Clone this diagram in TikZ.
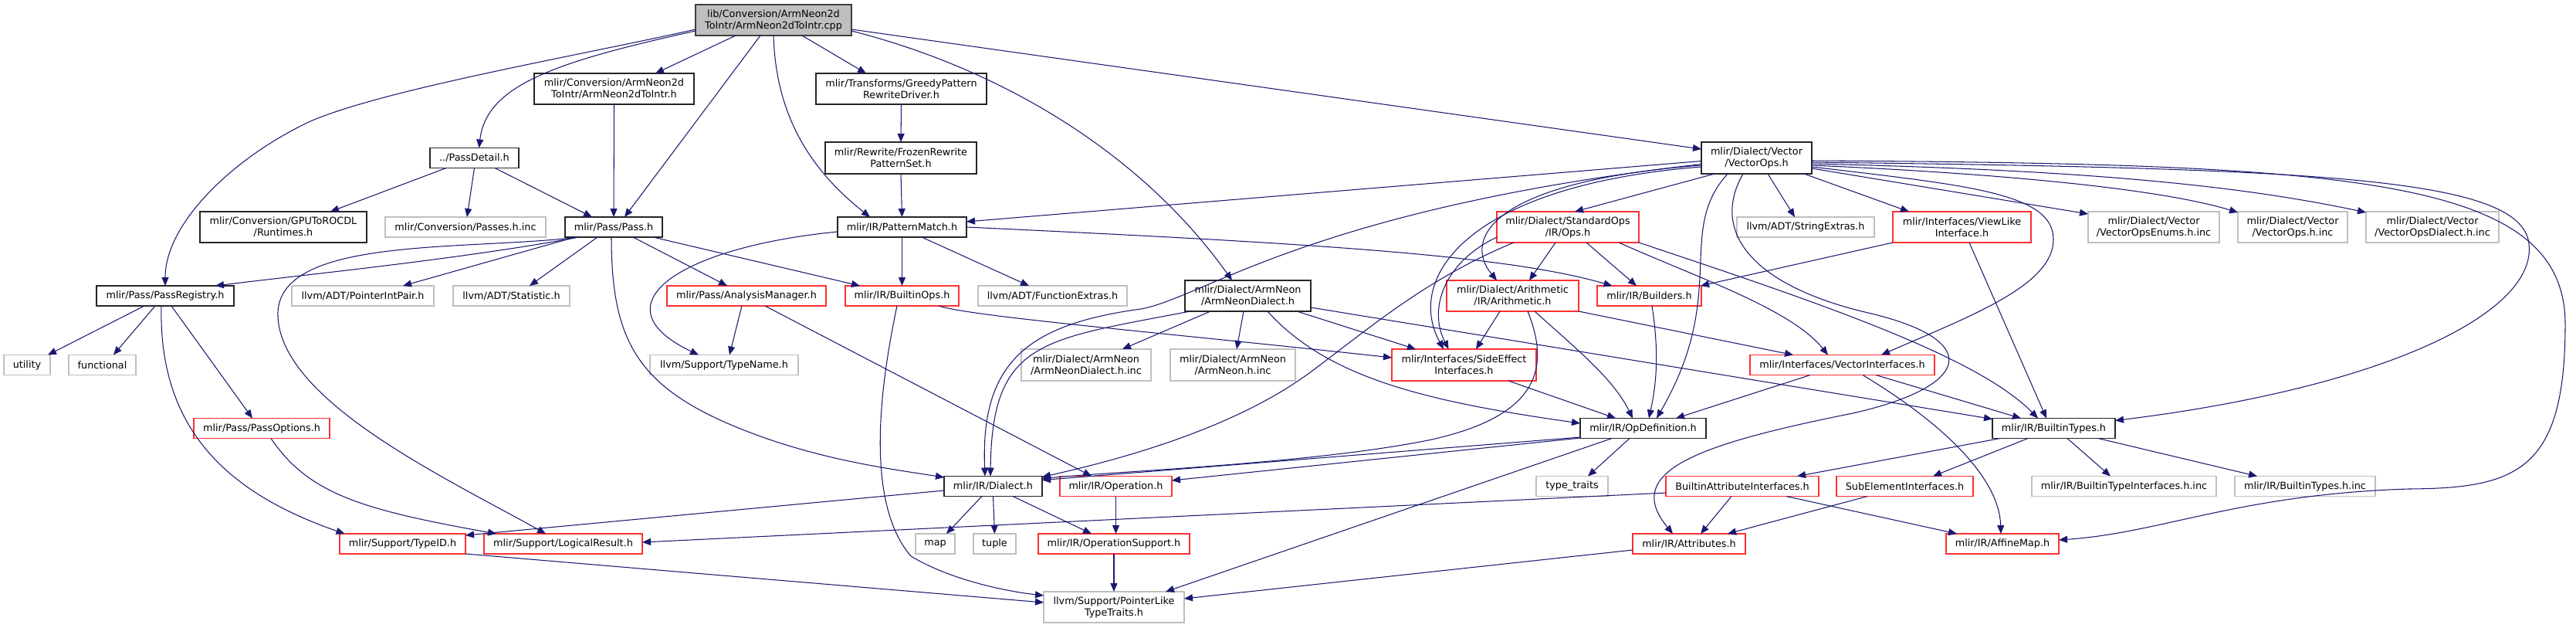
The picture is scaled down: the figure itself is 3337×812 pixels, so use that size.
\documentclass[tikz,border=0pt]{standalone}
\usepackage{fontspec}
\setmainfont{DejaVu Sans}
\usetikzlibrary{arrows.meta}
\definecolor{edgeblue}{HTML}{191970}
\definecolor{greyfill}{HTML}{BFBFBF}
\definecolor{greyline}{HTML}{BFBFBF}
\definecolor{rootline}{HTML}{404040}
\definecolor{redline}{HTML}{FF3030}
\tikzset{
  box/.style={rectangle, inner sep=0pt, outer sep=0pt, line width=1.1pt, align=center, fill=white,
    font=\fontsize{12.8pt}{15pt}\selectfont, text=black},
  rootbox/.style={box, draw=rootline, fill=greyfill},
  blackbox/.style={box, draw=black!85},
  redbox/.style={box, draw=redline},
  greybox/.style={box, draw=greyline},
  edge/.style={draw=edgeblue, line width=1.05pt, -{Triangle[length=11pt,width=9pt]}, fill=none},
}
\begin{document}
\begin{tikzpicture}[x=1pt,y=-1pt]
\useasboundingbox (0,0) rectangle (3337,812);
\fill[white] (0,0) rectangle (3337,812);
% ---------- nodes ----------
\node[rootbox, minimum width=202pt, minimum height=40pt] (cpp) at (1002,26) {lib/Conversion/ArmNeon2d\\ToIntr/ArmNeon2dToIntr.cpp};
\node[blackbox, minimum width=207pt, minimum height=40pt] (a2d) at (795.5,115) {mlir/Conversion/ArmNeon2d\\ToIntr/ArmNeon2dToIntr.h};
\node[blackbox, minimum width=221pt, minimum height=40pt] (greedy) at (1167.5,115) {mlir/Transforms/GreedyPattern\\RewriteDriver.h};
\node[blackbox, minimum width=115pt, minimum height=26pt] (passdetail) at (614.5,204.5) {../PassDetail.h};
\node[blackbox, minimum width=196pt, minimum height=41pt] (frozen) at (1167,204.5) {mlir/Rewrite/FrozenRewrite\\PatternSet.h};
\node[blackbox, minimum width=143pt, minimum height=41pt] (vectorops) at (2275.5,204.5) {mlir/Dialect/Vector\\/VectorOps.h};
\node[blackbox, minimum width=216pt, minimum height=40pt] (gpurocdl) at (367,294) {mlir/Conversion/GPUToROCDL\\/Runtimes.h};
\node[greybox, minimum width=208pt, minimum height=26pt] (passesinc) at (603,294) {mlir/Conversion/Passes.h.inc};
\node[blackbox, minimum width=126pt, minimum height=26pt] (pass) at (795,294) {mlir/Pass/Pass.h};
\node[blackbox, minimum width=167pt, minimum height=26pt] (patternmatch) at (1168.5,294) {mlir/IR/PatternMatch.h};
\node[redbox, minimum width=184pt, minimum height=40pt] (stdops) at (2031,294) {mlir/Dialect/StandardOps\\/IR/Ops.h};
\node[greybox, minimum width=178pt, minimum height=26pt] (stringextras) at (2339,294) {llvm/ADT/StringExtras.h};
\node[redbox, minimum width=179pt, minimum height=40pt] (viewlike) at (2541.5,294) {mlir/Interfaces/ViewLike\\Interface.h};
\node[greybox, minimum width=170pt, minimum height=40pt] (venums) at (2790,294) {mlir/Dialect/Vector\\/VectorOpsEnums.h.inc};
\node[greybox, minimum width=142pt, minimum height=40pt] (vinc) at (2970,294) {mlir/Dialect/Vector\\/VectorOps.h.inc};
\node[greybox, minimum width=172pt, minimum height=40pt] (vdialinc) at (3151,294) {mlir/Dialect/Vector\\/VectorOpsDialect.h.inc};
\node[blackbox, minimum width=178pt, minimum height=26pt] (passregistry) at (214,383) {mlir/Pass/PassRegistry.h};
\node[greybox, minimum width=184pt, minimum height=26pt] (pointerintpair) at (470,383) {llvm/ADT/PointerIntPair.h};
\node[greybox, minimum width=151pt, minimum height=26pt] (statistic) at (662.5,383) {llvm/ADT/Statistic.h};
\node[redbox, minimum width=206pt, minimum height=26pt] (analysismgr) at (967,383) {mlir/Pass/AnalysisManager.h};
\node[redbox, minimum width=147pt, minimum height=26pt] (builtinops) at (1168.5,383) {mlir/IR/BuiltinOps.h};
\node[greybox, minimum width=193pt, minimum height=26pt] (funcextras) at (1363.5,383) {llvm/ADT/FunctionExtras.h};
\node[blackbox, minimum width=163pt, minimum height=40pt] (armneondialect) at (1616.5,383) {mlir/Dialect/ArmNeon\\/ArmNeonDialect.h};
\node[redbox, minimum width=171pt, minimum height=40pt] (arithmetic) at (1959.5,383) {mlir/Dialect/Arithmetic\\/IR/Arithmetic.h};
\node[redbox, minimum width=135pt, minimum height=26pt] (builders) at (2136.5,383) {mlir/IR/Builders.h};
\node[greybox, minimum width=60pt, minimum height=26pt] (utility) at (35,472.5) {utility};
\node[greybox, minimum width=87pt, minimum height=26pt] (functional) at (132.5,472.5) {functional};
\node[greybox, minimum width=192pt, minimum height=26pt] (typename) at (938,472.5) {llvm/Support/TypeName.h};
\node[greybox, minimum width=168pt, minimum height=41pt] (armdialinc) at (1407,472.5) {mlir/Dialect/ArmNeon\\/ArmNeonDialect.h.inc};
\node[greybox, minimum width=162pt, minimum height=41pt] (armneoninc) at (1597,472.5) {mlir/Dialect/ArmNeon\\/ArmNeon.h.inc};
\node[redbox, minimum width=187pt, minimum height=41pt] (sideeffect) at (1896.5,472.5) {mlir/Interfaces/SideEffect\\Interfaces.h};
\node[redbox, minimum width=239pt, minimum height=26pt] (vectorifaces) at (2386.5,472.5) {mlir/Interfaces/VectorInterfaces.h};
\node[redbox, minimum width=176pt, minimum height=26pt] (passoptions) at (339,554.5) {mlir/Pass/PassOptions.h};
\node[blackbox, minimum width=163pt, minimum height=26pt] (opdef) at (2128.5,554.5) {mlir/IR/OpDefinition.h};
\node[blackbox, minimum width=159pt, minimum height=26pt] (builtintypes) at (2660.5,554.5) {mlir/IR/BuiltinTypes.h};
\node[blackbox, minimum width=127pt, minimum height=26pt] (dialect) at (1286.5,629.5) {mlir/IR/Dialect.h};
\node[redbox, minimum width=145pt, minimum height=26pt] (operation) at (1445.5,629.5) {mlir/IR/Operation.h};
\node[greybox, minimum width=93pt, minimum height=26pt] (typetraits) at (2036.5,629.5) {type\_traits};
\node[redbox, minimum width=198pt, minimum height=26pt] (battrifaces) at (2257,629.5) {BuiltinAttributeInterfaces.h};
\node[redbox, minimum width=177pt, minimum height=26pt] (subelem) at (2467.5,629.5) {SubElementInterfaces.h};
\node[greybox, minimum width=239pt, minimum height=26pt] (btifacesinc) at (2751.5,629.5) {mlir/IR/BuiltinTypeInterfaces.h.inc};
\node[greybox, minimum width=182pt, minimum height=26pt] (btinc) at (2986,629.5) {mlir/IR/BuiltinTypes.h.inc};
\node[redbox, minimum width=163pt, minimum height=26pt] (typeid) at (521.5,704) {mlir/Support/TypeID.h};
\node[redbox, minimum width=205pt, minimum height=26pt] (logicalresult) at (729.5,704) {mlir/Support/LogicalResult.h};
\node[greybox, minimum width=51pt, minimum height=26pt] (map) at (1211.5,704) {map};
\node[greybox, minimum width=55pt, minimum height=26pt] (tuple) at (1288.5,704) {tuple};
\node[redbox, minimum width=196pt, minimum height=26pt] (opsupport) at (1443,704) {mlir/IR/OperationSupport.h};
\node[redbox, minimum width=146pt, minimum height=26pt] (attributes) at (2188,704) {mlir/IR/Attributes.h};
\node[redbox, minimum width=146pt, minimum height=26pt] (affinemap) at (2594,704) {mlir/IR/AffineMap.h};
\node[greybox, minimum width=182pt, minimum height=40pt] (pointerlike) at (1443,786) {llvm/Support/PointerLike\\TypeTraits.h};
% ---------- edges ----------
% from cpp
\draw[edge] ([yshift=-12pt]cpp.west) .. controls (750,72) and (500,115) .. (402,157) .. controls (300,205) and (214,290) .. (passregistry.north);
\draw[edge] ([yshift=-14pt]cpp.west) .. controls (720,80) and (630,110) .. ([xshift=6pt]passdetail.north);
\draw[edge] ([xshift=-49pt]cpp.south) -- ([xshift=53.5pt]a2d.north);
\draw[edge] ([xshift=-17pt]cpp.south) -- ([xshift=14pt]pass.north);
\draw[edge] (cpp.south) .. controls (1005,150) and (1050,220) .. ([xshift=-41.5pt]patternmatch.north);
\draw[edge] ([xshift=37pt]cpp.south) -- ([xshift=-45.5pt]greedy.north);
\draw[edge] ([yshift=-14pt]cpp.east) .. controls (1300,90) and (1480,200) .. ([xshift=-20.5pt]armneondialect.north);
\draw[edge] ([yshift=-12pt]cpp.east) -- ([yshift=11.5pt]vectorops.west);
% upper part
\draw[edge] (a2d.south) -- (pass.north);
\draw[edge] ([xshift=-36.5pt]passdetail.south) -- ([xshift=61pt]gpurocdl.north);
\draw[edge] (passdetail.south) -- ([xshift=2pt]passesinc.north);
\draw[edge] ([xshift=26.5pt]passdetail.south) -- ([xshift=-28pt]pass.north);
\draw[edge] (greedy.south) -- (frozen.north);
\draw[edge] (frozen.south) -- (patternmatch.north);
\draw[edge] ([yshift=-4pt]vectorops.west) -- ([yshift=7pt]patternmatch.east);
% from pass
\draw[edge] ([xshift=-45pt]pass.south) .. controls (600,335) and (400,355) .. ([xshift=65pt]passregistry.north);
\draw[edge] ([xshift=-50pt]pass.south) -- ([xshift=52pt]pointerintpair.north);
\draw[edge] ([xshift=-21pt]pass.south) -- ([xshift=23.5pt]statistic.north);
\draw[edge] ([xshift=25pt]pass.south) -- ([xshift=-25pt]analysismgr.north);
\draw[edge] ([xshift=51pt]pass.south) -- ([xshift=-54.5pt]builtinops.north);
\draw[edge] ([xshift=-3pt]pass.south) .. controls (792,450) and (830,510) .. (991,567) .. controls (1080,598) and (1160,608) .. ([yshift=11.5pt]dialect.west);
\draw[edge] ([xshift=-45pt]pass.south) .. controls (600,325) and (355,305) .. (360,410) .. controls (365,520) and (580,620) .. ([xshift=-22.5pt]logicalresult.north);
% from passregistry
\draw[edge] ([xshift=-27pt]passregistry.south) -- ([xshift=27pt]utility.north);
\draw[edge] ([xshift=-13pt]passregistry.south) -- ([xshift=14.5pt]functional.north);
\draw[edge] ([xshift=-5pt]passregistry.south) .. controls (205,560) and (300,640) .. ([xshift=-75pt]typeid.north);
\draw[edge] ([xshift=8pt]passregistry.south) -- ([xshift=-12pt]passoptions.north);
\draw[edge] ([xshift=12pt]passoptions.south) .. controls (400,640) and (470,660) .. ([xshift=-86.5pt]logicalresult.north);
\draw[edge] (typeid.south east) -- ([yshift=6pt]pointerlike.west);
\draw[edge] ([yshift=-5.5pt]dialect.west) -- ([yshift=11pt]typeid.east);
\draw[edge] ([yshift=-8.5pt]battrifaces.west) -- ([yshift=2pt]logicalresult.east);
% from patternmatch
\draw[edge] ([yshift=-6pt]patternmatch.west) .. controls (880,320) and (770,395) .. ([xshift=-33pt]typename.north);
\draw[edge] (patternmatch.south) -- (builtinops.north);
\draw[edge] ([xshift=25.5pt]patternmatch.south) -- ([xshift=-30.5pt]funcextras.north);
\draw[edge] (patternmatch.east) .. controls (1700,315) and (1950,330) .. ([xshift=-48pt]builders.north);
% analysis manager, builtinops
\draw[edge] ([xshift=-6pt]analysismgr.south) -- ([xshift=7pt]typename.north);
\draw[edge] ([xshift=24pt]analysismgr.south) -- ([xshift=-31.5pt]operation.north);
\draw[edge] ([xshift=-6.5pt]builtinops.south) .. controls (1140,500) and (1120,650) .. (1180,720) .. controls (1230,750) and (1300,765) .. ([yshift=15pt]pointerlike.west);
\draw[edge] ([xshift=47.5pt]builtinops.south) .. controls (1260,410) and (1500,430) .. ([yshift=9.5pt]sideeffect.west);
% armneondialect
\draw[edge] ([xshift=-48.5pt]armneondialect.south) -- ([xshift=47pt]armdialinc.north);
\draw[edge] ([xshift=-5.5pt]armneondialect.south) -- ([xshift=5pt]armneoninc.north);
\draw[edge] ([xshift=63.5pt]armneondialect.south) -- ([xshift=-62.5pt]sideeffect.north);
\draw[edge] ([xshift=25.5pt]armneondialect.south) .. controls (1720,490) and (1850,520) .. ([yshift=6.5pt]opdef.west);
\draw[edge] ([yshift=-15pt]armneondialect.east) -- ([yshift=12pt]builtintypes.west);
\draw[edge] ([xshift=-75pt]armneondialect.south) .. controls (1350,440) and (1285,440) .. ([xshift=-3.5pt]dialect.north);
% vectorops
\draw[edge] ([yshift=-8pt]vectorops.west) .. controls (1700,270) and (1560,385) .. (1478,400) .. controls (1330,420) and (1270,470) .. ([xshift=-10.5pt]dialect.north);
\draw[edge] ([xshift=-54.5pt]vectorops.south) -- ([xshift=9pt]stdops.north);
\draw[edge] ([yshift=-9.5pt]vectorops.west) .. controls (1930,235) and (1895,310) .. ([xshift=-20.5pt]arithmetic.north);
\draw[edge] ([yshift=-11.5pt]vectorops.west) .. controls (1900,240) and (1820,360) .. ([xshift=-26.5pt]sideeffect.north);
\draw[edge] ([xshift=-37.5pt]vectorops.south) .. controls (2170,300) and (2240,380) .. ([xshift=17.5pt]opdef.north);
\draw[edge] ([xshift=-17.5pt]vectorops.south) .. controls (2215,300) and (2270,370) .. (2420,405) .. controls (2570,440) and (2555,500) .. (2400,535) .. controls (2200,575) and (2100,610) .. ([xshift=-21pt]attributes.north);
\draw[edge] ([xshift=14.5pt]vectorops.south) -- ([xshift=-14pt]stringextras.north);
\draw[edge] ([xshift=61.5pt]vectorops.south) -- ([xshift=-68.5pt]viewlike.north);
\draw[edge] ([yshift=-13.5pt]vectorops.east) -- ([yshift=-3pt]venums.north west);
\draw[edge] ([yshift=-9.5pt]vectorops.east) .. controls (2600,225) and (2800,245) .. ([yshift=-1pt]vinc.north west);
\draw[edge] ([yshift=-7.5pt]vectorops.east) .. controls (2700,220) and (2900,240) .. ([yshift=-1pt]vdialinc.north west);
\draw[edge] ([yshift=-11.5pt]vectorops.east) .. controls (2550,240) and (2660,250) .. (2660,310) .. controls (2660,370) and (2550,410) .. ([xshift=50.5pt]vectorifaces.north);
\draw[edge] ([yshift=-5.5pt]vectorops.east) .. controls (3000,218) and (3255,230) .. (3275,310) .. controls (3295,400) and (3100,500) .. ([yshift=10pt]builtintypes.east);
\draw[edge] ([yshift=-3.5pt]vectorops.east) .. controls (3050,212) and (3323,230) .. (3323,420) .. controls (3323,610) and (3260,632) .. (3120,633) .. controls (2900,640) and (2800,690) .. ([yshift=5pt]affinemap.east);
% stdops
\draw[edge] ([yshift=-13pt]stdops.west) .. controls (1870,340) and (1850,400) .. ([xshift=-20pt]sideeffect.north);
\draw[edge] ([xshift=-70pt]stdops.south) .. controls (1850,360) and (1780,420) .. (1700,480) .. controls (1600,555) and (1450,595) .. ([yshift=12pt]dialect.east);
\draw[edge] ([xshift=-16pt]stdops.south) -- ([xshift=21.5pt]arithmetic.north);
\draw[edge] ([xshift=24pt]stdops.south) -- ([xshift=-16.5pt]builders.north);
\draw[edge] ([xshift=66pt]stdops.south) .. controls (2200,360) and (2320,400) .. ([xshift=-18.5pt]vectorifaces.north);
\draw[edge] (stdops.south east) .. controls (2350,390) and (2560,460) .. ([xshift=-20.5pt]builtintypes.north);
% arithmetic
\draw[edge] ([xshift=-16.5pt]arithmetic.south) -- ([xshift=15.5pt]sideeffect.north);
\draw[edge] ([xshift=19.5pt]arithmetic.south) .. controls (2010,480) and (1990,540) .. (1850,570) .. controls (1700,600) and (1450,610) .. ([yshift=10pt]dialect.east);
\draw[edge] ([xshift=28.5pt]arithmetic.south) .. controls (2040,450) and (2090,490) .. ([xshift=-13.5pt]opdef.north);
\draw[edge] (arithmetic.south east) -- ([xshift=-63.5pt]vectorifaces.north);
% middle
\draw[edge] ([xshift=3.5pt]builders.south) .. controls (2150,460) and (2145,500) .. ([xshift=7.5pt]opdef.north);
\draw[edge] ([xshift=57.5pt]sideeffect.south) -- ([xshift=-35.5pt]opdef.north);
\draw[edge] ([xshift=-41.5pt]vectorifaces.south) -- ([xshift=42.5pt]opdef.north);
\draw[edge] (viewlike.south west) -- ([xshift=-1pt]builders.north east);
\draw[edge] ([xshift=9.5pt]viewlike.south) -- ([xshift=-9.5pt]builtintypes.north);
\draw[edge] ([xshift=43.5pt]vectorifaces.south) -- ([xshift=-42.5pt]builtintypes.north);
\draw[edge] ([xshift=26.5pt]vectorifaces.south) .. controls (2520,550) and (2590,620) .. ([xshift=-2pt]affinemap.north);
\draw[edge] ([xshift=-69.5pt]builtintypes.south) -- ([xshift=71pt]battrifaces.north);
\draw[edge] ([xshift=-33.5pt]builtintypes.south) -- ([xshift=36.5pt]subelem.north);
\draw[edge] ([xshift=17.5pt]builtintypes.south) -- ([xshift=-17.5pt]btifacesinc.north);
\draw[edge] ([xshift=57.5pt]builtintypes.south) -- ([xshift=-62pt]btinc.north);
\draw[edge] ([xshift=-14pt]battrifaces.south) -- ([xshift=15pt]attributes.north);
\draw[edge] ([xshift=57pt]battrifaces.south) -- ([xshift=-59pt]affinemap.north);
\draw[edge] ([xshift=-48.5pt]subelem.south) -- ([xshift=50pt]attributes.north);
\draw[edge] ([yshift=-8pt]attributes.west) -- ([yshift=11pt]pointerlike.east);
\draw[edge] ([yshift=-11.5pt]opdef.west) -- ([yshift=8pt]dialect.east);
\draw[edge] ([yshift=-12.5pt]opdef.west) -- ([yshift=7.5pt]operation.east);
\draw[edge] ([xshift=-17.5pt]opdef.south) -- ([xshift=20.5pt]typetraits.north);
\draw[edge] ([xshift=-40.5pt]opdef.south) -- ([xshift=67pt]pointerlike.north);
\draw[edge] ([xshift=-14.5pt]dialect.south) -- ([xshift=14.5pt]map.north);
\draw[edge] (dialect.south) -- (tuple.north);
\draw[edge] ([xshift=25.5pt]dialect.south) -- ([xshift=-29pt]opsupport.north);
\draw[edge] (operation.south) -- ([xshift=2.5pt]opsupport.north);
\draw[edge] (opsupport.south) -- (pointerlike.north);
\end{tikzpicture}
\end{document}
